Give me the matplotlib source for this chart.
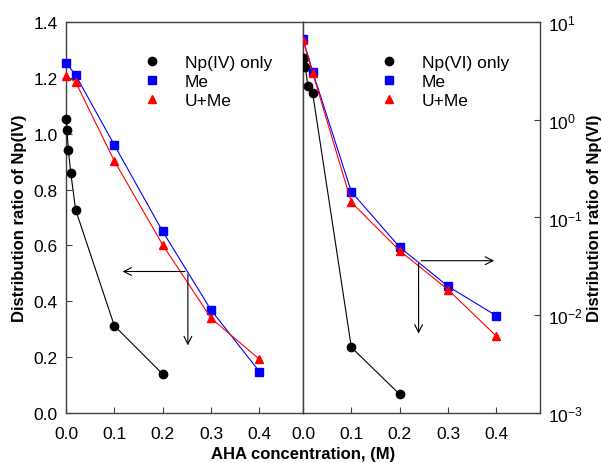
import numpy as np
import matplotlib
matplotlib.use("Agg")
import matplotlib.pyplot as plt
from matplotlib.ticker import LogLocator, NullLocator

plt.rcParams['font.family'] = ['Liberation Sans', 'DejaVu Sans']
plt.rcParams['mathtext.fontset'] = 'custom'
plt.rcParams['mathtext.rm'] = 'Liberation Sans'

# left panel: Np(IV), linear scale
np4_x = [0.001, 0.002, 0.005, 0.01, 0.02, 0.1, 0.2]
np4_only = [1.051, 1.013, 0.941, 0.858, 0.727, 0.313, 0.140]
me4_x = [0.0, 0.02, 0.1, 0.2, 0.3, 0.4]
me4 = [1.254, 1.209, 0.959, 0.650, 0.369, 0.149]
ume4 = [1.205, 1.184, 0.902, 0.602, 0.340, 0.193]

# right panel: Np(VI), log scale
np6_x = [0.002, 0.005, 0.01, 0.02, 0.1, 0.2]
np6_only = [4.23, 3.42, 2.19, 1.86, 0.00472, 0.00156]
me6_x = [0.0, 0.02, 0.1, 0.2, 0.3, 0.4]
me6 = [6.66, 3.08, 0.183, 0.0497, 0.0198, 0.0099]
ume6 = [6.5, 3.0, 0.143, 0.0458, 0.0183, 0.00612]

x_ticks = [0.0, 0.1, 0.2, 0.3, 0.4]
spine_col = '#404040'
fs = 12.5
fs_lab = 12

fig = plt.figure(figsize=(6.02, 4.64), dpi=100)
ax1 = fig.add_axes([0.1096, 0.1071, 0.3937, 0.844])
ax2 = fig.add_axes([0.5033, 0.1071, 0.3937, 0.844])

lw = 0.8
ms = 6

ax1.plot(np4_x, np4_only, '-', color='black', lw=lw, marker='o', ms=ms, clip_on=False, zorder=3)
ax1.plot(me4_x, me4, '-', color='blue', lw=lw, marker='s', ms=ms - 0.3, clip_on=False, zorder=3)
ax1.plot(me4_x, ume4, '-', color='red', lw=lw, marker='^', ms=ms + 0.3, clip_on=False, zorder=3)

ax2.plot(np6_x, np6_only, '-', color='black', lw=lw, marker='o', ms=ms, zorder=3)
ax2.plot(me6_x, me6, '-', color='blue', lw=lw, marker='s', ms=ms - 0.3, zorder=3)
ax2.plot(me6_x, ume6, '-', color='red', lw=lw, marker='^', ms=ms + 0.3, zorder=3)

# legends (markers only)
for ax, first in ((ax1, 'Np(IV) only'), (ax2, 'Np(VI) only')):
    h = [
        plt.Line2D([], [], ls='none', marker='o', color='black', ms=ms),
        plt.Line2D([], [], ls='none', marker='s', color='blue', ms=ms - 0.3),
        plt.Line2D([], [], ls='none', marker='^', color='red', ms=ms + 0.3),
    ]
    ax.legend(h, [first, 'Me', 'U+Me'], loc='upper left', bbox_to_anchor=(0.295, 0.932),
              frameon=False, fontsize=fs, handlelength=1.0, handletextpad=1.4,
              labelspacing=0.22, borderaxespad=0)

# arrows
arr = dict(arrowstyle='->', color='black', lw=0.8, mutation_scale=14)
ax1.annotate('', xy=(0.111, 0.507), xytext=(0.252, 0.507), arrowprops=arr)
ax1.annotate('', xy=(0.252, 0.233), xytext=(0.252, 0.507), arrowprops=arr)
ax2.annotate('', xy=(0.401, 0.0362), xytext=(0.239, 0.0362), arrowprops=arr)
ax2.annotate('', xy=(0.239, 0.0061), xytext=(0.239, 0.0362), arrowprops=arr)

# axes setup
ax1.set_xlim(0, 0.49)
ax1.set_ylim(0, 1.4)
ax1.set_xticks(x_ticks)
ax1.set_yticks(np.arange(0, 1.41, 0.2))
ax1.set_xticklabels([f'{t:.1f}' for t in x_ticks])
ax1.set_yticklabels([f'{t:.1f}' for t in np.arange(0, 1.41, 0.2)])

ax2.set_yscale('log')
ax2.set_xlim(0, 0.49)
ax2.set_ylim(1e-3, 1e1)
ax2.set_xticks(x_ticks)
ax2.set_xticklabels([f'{t:.1f}' for t in x_ticks])
ax2.yaxis.set_major_locator(LogLocator(base=10))
ax2.yaxis.set_minor_locator(NullLocator())
ax2.yaxis.tick_right()
ax2.yaxis.set_label_position('right')

for ax in (ax1, ax2):
    for s in ax.spines.values():
        s.set_color(spine_col)
        s.set_linewidth(1.0)
    ax.tick_params(direction='in', length=4, width=0.8, color=spine_col,
                   labelsize=fs)
    ax.tick_params(axis='x', pad=9)
    ax.tick_params(axis='y', pad=6)

ax1.set_ylabel('Distribution ratio of Np(IV)', fontsize=fs_lab, fontweight='bold',
               va='center')
ax1.yaxis.set_label_coords(-0.194, 0.5)
ax2.set_ylabel('Distribution ratio of Np(VI)', fontsize=fs_lab, fontweight='bold',
               rotation=90, va='center')
ax2.yaxis.set_label_coords(1.232, 0.5)
fig.text(0.503, 0.0194, 'AHA concentration, (M)', ha='center', va='center',
         fontsize=fs_lab, fontweight='bold')

fig.savefig('out.png', dpi=100)
